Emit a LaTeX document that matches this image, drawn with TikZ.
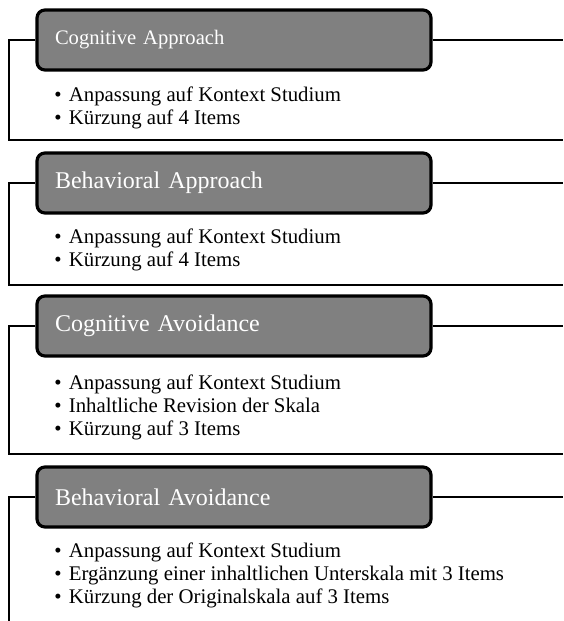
\documentclass[tikz,border=0pt]{standalone}
\usepackage{fontspec}
\setmainfont{Liberation Serif}
\usetikzlibrary{positioning}

\definecolor{headgrey}{RGB}{128,128,128}

\tikzset{
  headbox/.style={draw=black, line width=1.6pt, fill=headgrey, rounded corners=4pt,
    minimum height=30pt, text width=179pt, inner xsep=9pt, align=left, text=white,
    font=\fontsize{12}{14}\selectfont},
  itemlist/.style={align=left, anchor=north west, inner sep=0pt,
    font=\fontsize{10.4}{11.5}\selectfont},
  frameline/.style={line width=1.4pt}
}
\newcommand{\itm}{•\hspace{3.6pt}}

\begin{document}
\begin{tikzpicture}[x=0.5pt,y=-0.5pt]
        \useasboundingbox (0,0) rectangle (563,621);

        % Cognitive Approach
        \node[headbox, font=\fontsize{10.3}{12}\selectfont] (cogapp) at (234,40) {Cognitive Approach};
        \node[itemlist] (cogapplist) at (54,86)
          {\itm Anpassung auf Kontext Studium\\
           \itm Kürzung auf 4 Items};
        \coordinate (cogappL) at (9,140);
        \coordinate (cogappR) at (563,140);
        \draw[frameline] (cogapp.east) -- (cogapp.east -| cogappR);
        \draw[frameline] (cogapp.west) -| (cogappL) -- (cogappR);

        % Behavioral Approach
        \node[headbox] (behapp) at (234,183) {Behavioral Approach};
        \node[itemlist] (behapplist) at (54,228)
          {\itm Anpassung auf Kontext Studium\\
           \itm Kürzung auf 4 Items};
        \coordinate (behappL) at (9,285);
        \coordinate (behappR) at (563,285);
        \draw[frameline] (behapp.east) -- (behapp.east -| behappR);
        \draw[frameline] (behapp.west) -| (behappL) -- (behappR);

        % Cognitive Avoidance
        \node[headbox] (cogavo) at (234,326) {Cognitive Avoidance};
        \node[itemlist] (cogavolist) at (54,374)
          {\itm Anpassung auf Kontext Studium\\
           \itm Inhaltliche Revision der Skala\\
           \itm Kürzung auf 3 Items};
        \coordinate (cogavoL) at (9,454);
        \coordinate (cogavoR) at (563,454);
        \draw[frameline] (cogavo.east) -- (cogavo.east -| cogavoR);
        \draw[frameline] (cogavo.west) -| (cogavoL) -- (cogavoR);

        % Behavioral Avoidance
        \node[headbox] (behavo) at (234,497) {Behavioral Avoidance};
        \node[itemlist] (behavolist) at (54,542)
          {\itm Anpassung auf Kontext Studium\\
           \itm Ergänzung einer inhaltlichen Unterskala mit 3 Items\\
           \itm Kürzung der Originalskala auf 3 Items};
        \coordinate (behavoL) at (9,621);
        \coordinate (behavoR) at (563,497);
        \draw[frameline] (behavo.east) -- (behavoR);
        \draw[frameline] (behavo.west) -| (behavoL);

\end{tikzpicture}
\end{document}
